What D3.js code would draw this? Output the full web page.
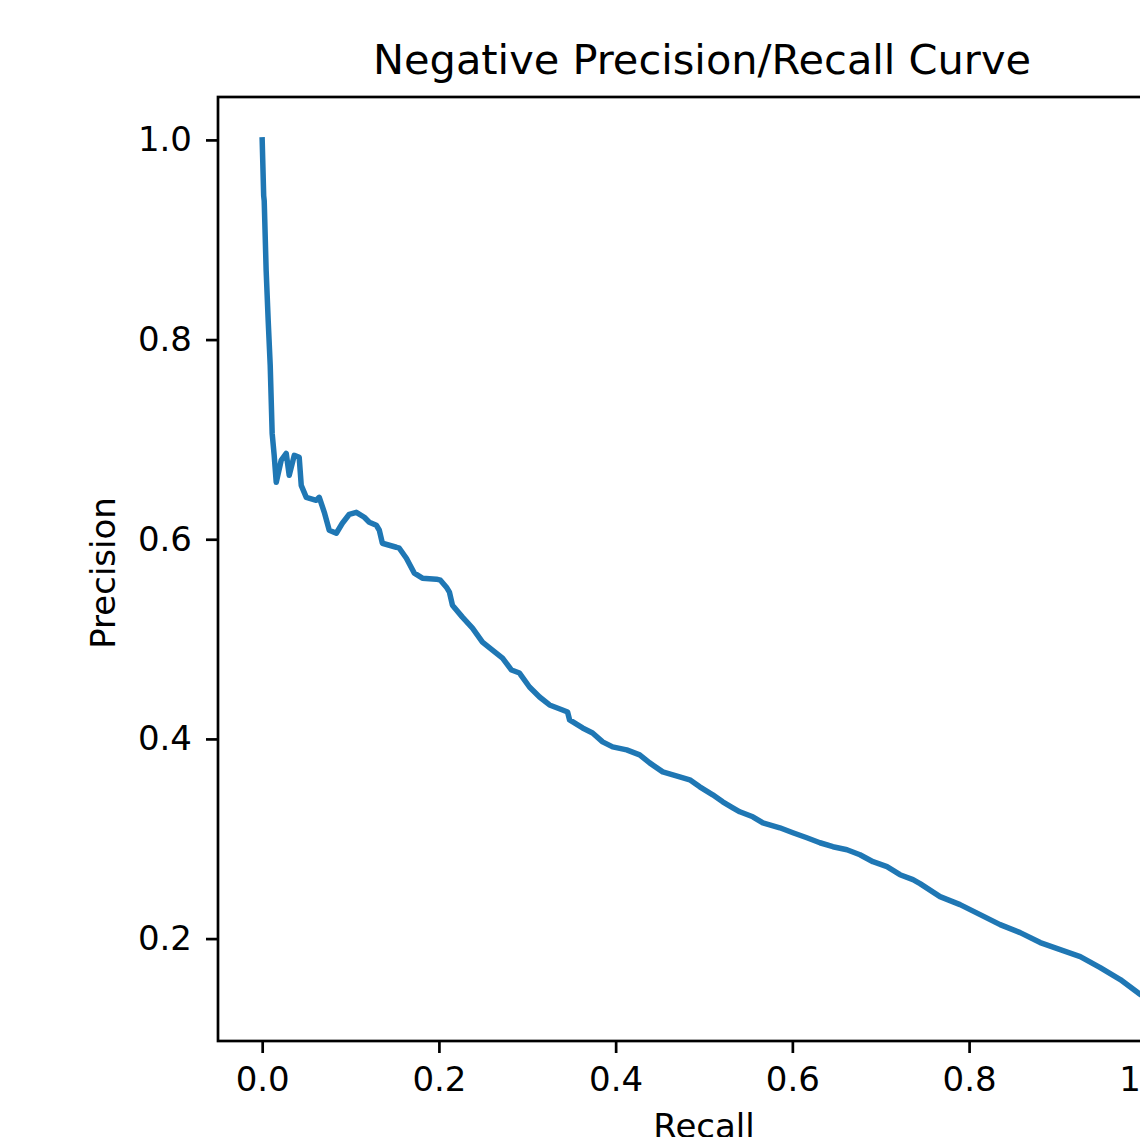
<html lang="en">
<head>
  <meta http-equiv="Content-Type" content="text/html; charset=utf-8" />
  <script src="https://d3js.org/d3.v7.min.js"></script>
  <style>
    body { margin: 0; background: #fff; }
    svg { display: block; }
  </style>
</head>
<body>
  <div id="chart"></div>
  <script>
    'use strict';
    const title = "Negative Precision/Recall Curve";
    const xTitle = "Recall";
    const yTitle = "Precision";

    // curve points
    const recall = [
      0.000, 0.0017, 0.0023, 0.0045, 0.0068, 0.0091, 0.0113, 0.0136, 0.0159, 0.0215,
      0.0272, 0.0306, 0.0363, 0.0419, 0.0442, 0.0499, 0.0612, 0.0646, 0.0703, 0.0759,
      0.0839, 0.0907, 0.0986, 0.1065, 0.1156, 0.1212, 0.1292, 0.1326, 0.1360, 0.1518,
      0.1552, 0.1632, 0.1722, 0.1813, 0.1972, 0.2017, 0.2085, 0.2119, 0.2153, 0.2266,
      0.2380, 0.2493, 0.2606, 0.2720, 0.2822, 0.2912, 0.3025, 0.3139, 0.3252, 0.3399,
      0.3456, 0.3479, 0.3626, 0.3739, 0.3853, 0.3966, 0.4125, 0.4272, 0.4385, 0.4533,
      0.4725, 0.4839, 0.4952, 0.5099, 0.5212, 0.5326, 0.5405, 0.5552, 0.5666, 0.5858,
      0.6006, 0.6164, 0.6312, 0.6459, 0.6618, 0.6765, 0.6912, 0.7071, 0.7218, 0.7365,
      0.7445, 0.7671, 0.7898, 0.8125, 0.8351, 0.8578, 0.8805, 0.9031, 0.9258, 0.9484,
      0.9711, 0.9938, 1.000
    ];
    const precision = [
      1.000, 0.944, 0.939, 0.869, 0.819, 0.774, 0.706, 0.684, 0.657, 0.679,
      0.686, 0.664, 0.684, 0.682, 0.654, 0.642, 0.639, 0.642, 0.627, 0.609,
      0.606, 0.616, 0.625, 0.627, 0.622, 0.617, 0.614, 0.609, 0.596, 0.592,
      0.591, 0.581, 0.566, 0.561, 0.560, 0.559, 0.552, 0.547, 0.534, 0.522,
      0.511, 0.497, 0.489, 0.481, 0.469, 0.466, 0.452, 0.442, 0.434, 0.429,
      0.427, 0.419, 0.411, 0.406, 0.397, 0.392, 0.389, 0.384, 0.376, 0.367,
      0.362, 0.359, 0.352, 0.344, 0.337, 0.331, 0.327, 0.322, 0.316, 0.311,
      0.306, 0.301, 0.296, 0.292, 0.289, 0.284, 0.277, 0.272, 0.264, 0.259,
      0.255, 0.242, 0.234, 0.224, 0.214, 0.206, 0.196, 0.189, 0.182, 0.171,
      0.159, 0.144, 0.1404
    ];
    const xTicks = [0, 0.2, 0.4, 0.6, 0.8, 1.0];
    const yTicks = [0.2, 0.4, 0.6, 0.8, 1.0];

    const svgWidth = 1140;
    const svgHeight = 1137;
    // axes box (right edge runs past the canvas like in the picture)
    const box = {left: 218, top: 97, right: 1190, bottom: 1041};
    const font = "DejaVu Sans";
    const lw = 2.7;

    const pad = (ext) => {
      const d = (ext[1] - ext[0]) * 0.05;
      return [ext[0] - d, ext[1] + d];
    };

    const svg = d3.select("#chart").append("svg")
      .attr("width", svgWidth).attr("height", svgHeight);

    const x = d3.scaleLinear().domain(pad(d3.extent(recall))).range([box.left, box.right]);
    const y = d3.scaleLinear().domain(pad(d3.extent(precision))).range([box.bottom, box.top]);

    const points = recall.map((r, i) => [r, precision[i]]);

    // curve
    svg.append("path")
      .datum(points)
      .attr("fill", "none")
      .attr("stroke", "#1f77b4")
      .attr("stroke-width", 5.5)
      .attr("stroke-linejoin", "round")
      .attr("stroke-linecap", "square")
      .attr("d", d3.line().x(d => x(d[0])).y(d => y(d[1])));

    // axes
    const xAxis = svg.append("g")
      .attr("transform", `translate(0,${box.bottom})`)
      .call(d3.axisBottom(x).tickValues(xTicks).tickFormat(d3.format(".1f"))
        .tickSize(12).tickPadding(14));
    const yAxis = svg.append("g")
      .attr("transform", `translate(${box.left},0)`)
      .call(d3.axisLeft(y).tickValues(yTicks).tickFormat(d3.format(".1f"))
        .tickSize(12).tickPadding(14));

    [xAxis, yAxis].forEach(a => {
      a.select(".domain").remove();
      a.selectAll(".tick line").attr("stroke", "#000").attr("stroke-width", lw);
      a.selectAll(".tick text")
        .attr("fill", "#000")
        .attr("font-family", font)
        .attr("font-size", "34px");
    });

    // spines
    svg.append("rect")
      .attr("x", box.left).attr("y", box.top)
      .attr("width", box.right - box.left).attr("height", box.bottom - box.top)
      .attr("fill", "none").attr("stroke", "#000").attr("stroke-width", lw);

    // titles
    svg.append("text")
      .attr("x", (box.left + box.right) / 2 - 2).attr("y", 74)
      .attr("text-anchor", "middle")
      .attr("font-family", font).attr("font-size", "41.5px")
      .text(title);

    svg.append("text")
      .attr("x", (box.left + box.right) / 2).attr("y", 1138)
      .attr("text-anchor", "middle")
      .attr("font-family", font).attr("font-size", "34px")
      .text(xTitle);

    svg.append("text")
      .attr("transform", `translate(115,${(box.top + box.bottom) / 2 + 4}) rotate(-90)`)
      .attr("text-anchor", "middle")
      .attr("font-family", font).attr("font-size", "34px")
      .text(yTitle);
  </script>
</body>
</html>
